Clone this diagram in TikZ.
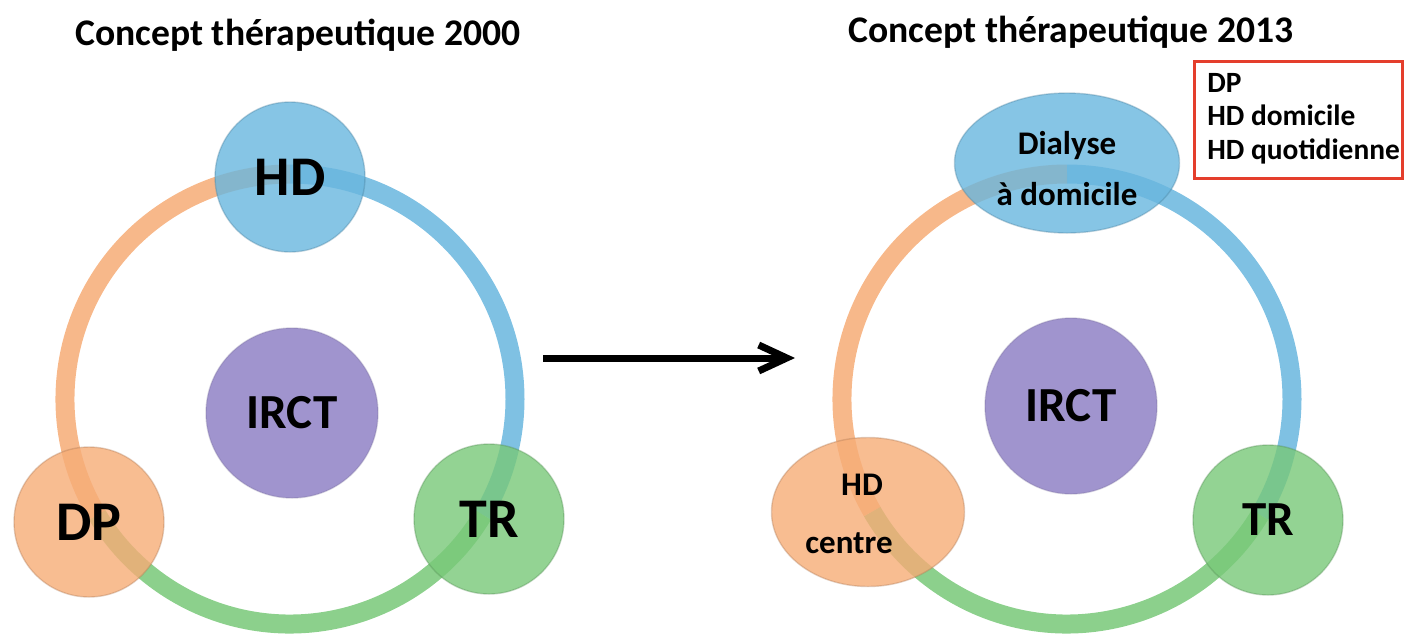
\documentclass[tikz,border=0pt]{standalone}
\usepackage{fontspec}
\setmainfont{Carlito}
\usetikzlibrary{shapes.geometric,arrows.meta}
\definecolor{cblue}{RGB}{104,182,222}
\definecolor{corange}{RGB}{246,172,118}
\definecolor{cgreen}{RGB}{120,200,120}
\definecolor{cpurple}{RGB}{160,148,206}
\definecolor{cred}{RGB}{228,62,44}
\begin{document}
\begin{tikzpicture}[x=0.5pt,y=-0.5pt,
  ring/.style={line width=9.5pt, draw opacity=0.85},
  bubble/.style={circle, minimum size=75pt, inner sep=0pt, fill opacity=0.8, text opacity=1, draw opacity=0.35, line width=0.7pt},
  oval/.style={ellipse, inner sep=0pt, fill opacity=0.8, draw opacity=0.35, line width=0.7pt},
  core/.style={ellipse, inner sep=0pt, fill=cpurple, draw=cpurple!75!black, draw opacity=0.3, line width=0.7pt, font=\bfseries\fontsize{24.5}{26}\selectfont},
  bigtxt/.style={font=\bfseries\fontsize{28}{30}\selectfont},
  midtxt/.style={font=\bfseries\fontsize{24.5}{26}\selectfont},
  ovaltxt/.style={font=\bfseries\fontsize{16.5}{18}\selectfont, anchor=base, inner sep=0pt},
  boxtxt/.style={font=\bfseries\fontsize{14.7}{16}\selectfont, anchor=base west, inner sep=0pt},
  title/.style={font=\bfseries\fontsize{18.8}{20}\selectfont, anchor=base, inner sep=0pt}
]
\useasboundingbox (0,0) rectangle (1404,639);

% titles
\node[title] (t1) at (298,45) {Concept thérapeutique 2000};
\node[title] (t2) at (1071,42) {Concept thérapeutique 2013};

% ---------- left diagram ----------
\coordinate (ltop) at ([shift={(290,399)}]90:112.5pt);
\coordinate (lright) at ([shift={(290,399)}]-31:112.5pt);
\coordinate (lleft) at ([shift={(290,399)}]211:112.5pt);
\draw[ring, draw=cblue] (ltop) arc[start angle=90, end angle=-31, radius=112.5pt];
\draw[ring, draw=cgreen] (lright) arc[start angle=-31, end angle=-149, radius=112.5pt];
\draw[ring, draw=corange] (lleft) arc[start angle=211, end angle=90, radius=112.5pt];

\node[bubble, fill=cblue, draw=cblue!70!black, bigtxt] (hd1) at (290,177) {HD};
\node[bubble, fill=corange, draw=corange!70!black, bigtxt] (dp1) at (89,522) {DP};
\node[bubble, fill=cgreen, draw=cgreen!70!black, bigtxt] (tr1) at (489,519) {TR};
\node[core, minimum width=86pt, minimum height=85pt] (ir1) at (292,413) {IRCT};

% ---------- arrow ----------
\coordinate (as) at (543,358);
\coordinate (ae) at (795,358);
\draw[line width=3.5pt, -{Straight Barb[length=14pt, width=13pt]}] (as) -- (ae);

% ---------- right diagram ----------
\coordinate (rtop) at ([shift={(1067,399)}]90:112.5pt);
\coordinate (rright) at ([shift={(1067,399)}]-31:112.5pt);
\coordinate (rleft) at ([shift={(1067,399)}]210:112.5pt);
\draw[ring, draw=cblue] (rtop) arc[start angle=90, end angle=-31, radius=112.5pt];
\draw[ring, draw=cgreen] (rright) arc[start angle=-31, end angle=-150, radius=112.5pt];
\draw[ring, draw=corange] (rleft) arc[start angle=210, end angle=90, radius=112.5pt];

\node[oval, fill=cblue, draw=cblue!70!black, minimum width=112.5pt, minimum height=70pt] (dd) at (1067,163) {};
\node[ovaltxt] (dd1) at (1067,154) {Dialyse};
\node[ovaltxt] (dd2) at (1067,205) {à domicile};

\node[oval, fill=corange, draw=corange!70!black, minimum width=96.5pt, minimum height=74.5pt] (hc) at (868,512) {};
\node[ovaltxt] (hc1) at (862,495) {HD};
\node[ovaltxt] (hc2) at (849,553) {centre};

\node[bubble, fill=cgreen, draw=cgreen!70!black, midtxt] (tr2) at (1268,520) {TR};
\node[core, minimum width=86pt, minimum height=88pt] (ir2) at (1071,406) {IRCT};

% ---------- box ----------
\node[draw=cred, line width=1.5pt, minimum width=104pt, minimum height=58.5pt, anchor=north west, inner sep=0pt] (box) at (1193,60) {};
\node[boxtxt] (b1) at (1207,92) {DP};
\node[boxtxt] (b2) at (1207,125) {HD domicile};
\node[boxtxt] (b3) at (1207,159) {HD quotidienne};
\end{tikzpicture}
\end{document}
